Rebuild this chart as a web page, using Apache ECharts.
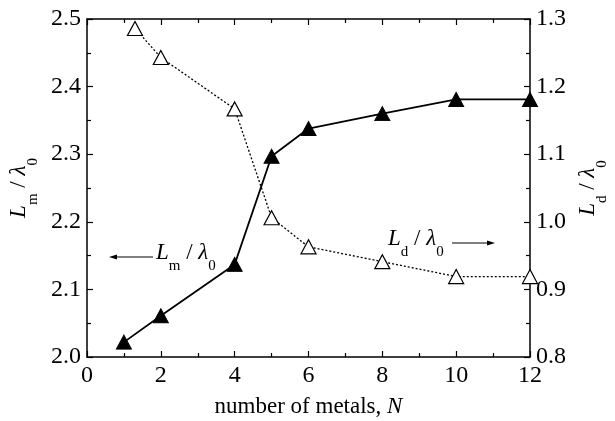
<!DOCTYPE html>
<html>
<head>
<meta charset="utf-8">
<script src="https://cdn.jsdelivr.net/npm/echarts@6/dist/echarts.min.js"></script>
<style>html,body{margin:0;padding:0;background:#fff}#c{width:615px;height:421px}</style>
</head>
<body>
<div id="c"></div>
<script>
var lmN = [1, 2, 4, 5, 6, 8, 10, 12];
var lmValues = [2.022, 2.061, 2.137, 2.297, 2.338, 2.360, 2.381, 2.381];
var ldN = [1.3, 2, 4, 5, 6, 8, 10, 12];
var ldValues = [1.286, 1.243, 1.167, 1.006, 0.963, 0.941, 0.919, 0.919];
var xTicks = [0, 2, 4, 6, 8, 10, 12];
var yLeftTicks = [2.0, 2.1, 2.2, 2.3, 2.4, 2.5];
var yRightTicks = [0.8, 0.9, 1.0, 1.1, 1.2, 1.3];

var FONT = 'Liberation Serif';
var chart = echarts.init(document.getElementById('c'), null, {renderer: 'canvas'});
function pairs(xs, ys) { return xs.map(function (x, i) { return [x, ys[i]]; }); }
var richName = {
  i: {fontFamily: FONT, fontStyle: 'italic', fontSize: 23, color: '#000'},
  n: {fontFamily: FONT, fontSize: 23, color: '#000'},
  sub: {fontFamily: FONT, fontSize: 15, color: '#000', verticalAlign: 'bottom', padding: [0, 0, -10, 0]}
};
var richTick = {t: {fontFamily: FONT, fontSize: 24, color: '#000'}};
function labelStyle(extra, digits) {
  return Object.assign({
    show: true, fontFamily: FONT, fontSize: 24, color: '#000', rich: richTick,
    formatter: function (v) { return '{t|' + (digits ? v.toFixed(digits) : String(v)) + '}'; }
  }, extra || {});
}
function axisBase() {
  return {
    axisLine: {show: true, onZero: false, lineStyle: {color: '#000', width: 1.5}},
    axisTick: {show: true, inside: true, length: 6, lineStyle: {color: '#000', width: 1.2}},
    minorTick: {show: true, splitNumber: 2, length: 4, lineStyle: {color: '#000', width: 1.2}},
    splitLine: {show: false}
  };
}
var option = {
  animation: false,
  backgroundColor: '#fff',
  textStyle: {fontFamily: FONT, fontSize: 24, color: '#000'},
  grid: {left: 87, right: 85, top: 19, bottom: 64, containLabel: false, outerBoundsMode: 'none'},
  xAxis: [
    Object.assign(axisBase(), {
      type: 'value', min: xTicks[0], max: xTicks[xTicks.length - 1], interval: 2,
      position: 'bottom',
      axisLabel: labelStyle({margin: 7}, 0),
      name: '{n|number of metals, }{i|N}', nameLocation: 'middle', nameGap: 38,
      nameTextStyle: {rich: richName}
    }),
    Object.assign(axisBase(), {
      type: 'value', min: xTicks[0], max: xTicks[xTicks.length - 1], interval: 2,
      position: 'top', axisLabel: {show: false}
    })
  ],
  yAxis: [
    Object.assign(axisBase(), {
      type: 'value', min: yLeftTicks[0], max: yLeftTicks[yLeftTicks.length - 1], interval: 0.1,
      position: 'left',
      axisLabel: labelStyle({margin: 6}, 1),
      name: '{i|L}{sub|m}{n| / }{i|λ}{sub|0}', nameLocation: 'middle', nameGap: 43, nameRotate: 90,
      nameTextStyle: {rich: richName}
    }),
    Object.assign(axisBase(), {
      type: 'value', min: yRightTicks[0], max: yRightTicks[yRightTicks.length - 1], interval: 0.1,
      position: 'right',
      axisLabel: labelStyle({margin: 6}, 1),
      name: '{i|L}{sub|d}{n| / }{i|λ}{sub|0}', nameLocation: 'middle', nameGap: 43, nameRotate: 90,
      nameTextStyle: {rich: richName}
    })
  ],
  series: [
    {
      type: 'line', xAxisIndex: 0, yAxisIndex: 0,
      data: pairs(lmN, lmValues),
      symbol: 'triangle', symbolSize: [15, 14],
      itemStyle: {color: '#000', borderColor: '#000', borderWidth: 1},
      lineStyle: {color: '#000', width: 1.8, type: 'solid'},
      z: 3
    },
    {
      type: 'line', xAxisIndex: 0, yAxisIndex: 1,
      data: pairs(ldN, ldValues),
      symbol: 'triangle', symbolSize: [15, 14],
      itemStyle: {color: '#fff', borderColor: '#000', borderWidth: 1.2},
      lineStyle: {color: '#000', width: 1.3, type: [2, 2]},
      z: 2
    }
  ],
  graphic: [
    {type: 'line', shape: {x1: 114, y1: 257, x2: 153, y2: 257}, style: {stroke: '#000', lineWidth: 1.2}},
    {type: 'polygon', shape: {points: [[109, 257], [117, 254.5], [117, 259.5]]}, style: {fill: '#000'}},
    {type: 'text', left: 156, top: 241, style: {
      text: '{i|L}{sub|m}{n| / }{i|λ}{sub|0}', rich: richName, fill: '#000'}},
    {type: 'text', left: 388, top: 227, style: {
      text: '{i|L}{sub|d}{n| / }{i|λ}{sub|0}', rich: richName, fill: '#000'}},
    {type: 'line', shape: {x1: 452, y1: 243, x2: 490, y2: 243}, style: {stroke: '#000', lineWidth: 1.2}},
    {type: 'polygon', shape: {points: [[495, 243], [487, 240.5], [487, 245.5]]}, style: {fill: '#000'}}
  ]
};
chart.setOption(option);
</script>
</body>
</html>
